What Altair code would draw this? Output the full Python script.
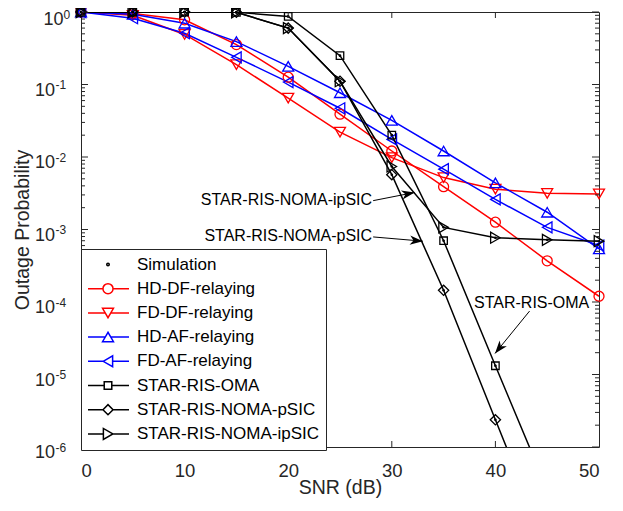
import math
import altair as alt
import pandas as pd

# ---------------- data ----------------
snr = [0, 5, 10, 15, 20, 25, 30, 35, 40, 45, 50]
hd_df = [1.0, 0.95, 0.78, 0.355, 0.126, 0.039, 0.0121, 0.0039, 0.00126, 0.00037, 0.00012]
fd_df = [1.0, 0.90, 0.49, 0.188, 0.065, 0.022, 0.0098, 0.0052, 0.0036, 0.00315, 0.0031]
hd_af = [1.0, 0.93, 0.70, 0.39, 0.178, 0.077, 0.032, 0.0121, 0.0044, 0.00173, 0.00054]
fd_af = [1.0, 0.82, 0.51, 0.237, 0.108, 0.047, 0.0175, 0.0068, 0.0026, 0.00107, 0.00060]
oma = [1.0, 1.0, 1.0, 0.99, 0.87, 0.25, 0.020, 0.00070, 1.32e-5, 2.6e-7]
noma_psic = [1.0, 1.0, 1.0, 0.99, 0.60, 0.111, 0.0057, 1.45e-4, 2.37e-6, 4e-8]
noma_ipsic = [1.0, 1.0, 1.0, 0.99, 0.60, 0.111, 0.0074, 0.00107, 0.00077, 0.00072, 0.00069]

series_names = ["HD-DF-relaying", "FD-DF-relaying", "HD-AF-relaying", "FD-AF-relaying",
                "STAR-RIS-OMA", "STAR-RIS-NOMA-pSIC", "STAR-RIS-NOMA-ipSIC"]
series_values = [hd_df, fd_df, hd_af, fd_af, oma, noma_psic, noma_ipsic]
simulated_series = ["STAR-RIS-OMA", "STAR-RIS-NOMA-pSIC", "STAR-RIS-NOMA-ipSIC"]

legend_names = ["Simulation"] + series_names

x_ticks = [0, 10, 20, 30, 40, 50]
y_ticks = [1, 1e-1, 1e-2, 1e-3, 1e-4, 1e-5, 1e-6]
y_tick_base = "10"
y_tick_exps = ["0", "-1", "-2", "-3", "-4", "-5", "-6"]
y_minor = [k * 10.0 ** (-d) for d in range(1, 7) for k in range(2, 10)]

ann_text = ["STAR-RIS-NOMA-ipSIC", "STAR-RIS-NOMA-pSIC"]
ann_snr = [28.1, 28.1]
ann_val = [2.58e-3, 8.2e-4]
oma_text = ["STAR-RIS-OMA"]
oma_snr = [43.5]
oma_val = [9.6e-5]
arrow_from_snr = [28.2, 28.2, 43.3]
arrow_from_val = [2.5e-3, 7.9e-4, 7.5e-5]
arrow_to_snr = [32.2, 33.0, 39.96]
arrow_to_val = [3.24e-3, 6.9e-4, 1.95e-5]

# ---------------- styles ----------------
FONT = "Liberation Sans"
TXT = "#262626"
W, H = 518, 435
YMIN, YMAX = 1e-6, 1.0

legend_colors = ["black", "#ff0000", "#ff0000", "#0000ff", "#0000ff", "black", "black", "black"]
series_colors = legend_colors[1:]
series_shapes = ["circle", "triangle-down", "triangle-up", "triangle-left", "square", "diamond", "triangle-right"]
series_sizes = [100, 121, 121, 121, 56, 105, 121]

legend_paths = [
    "M0.06,0A0.06,0.06,0,1,1,-0.06,0A0.06,0.06,0,1,1,0.06,0Z",
    "M-1,0H-0.24M0.24,0H1M0.24,0A0.24,0.24,0,1,1,-0.24,0A0.24,0.24,0,1,1,0.24,0Z",
    "M-1,0H-0.13M0.13,0H1M-0.26,-0.22L0.26,-0.22L0,0.23Z",
    "M-1,0H-0.13M0.13,0H1M0,-0.23L-0.26,0.22L0.26,0.22Z",
    "M-1,0H-0.23M0.22,0H1M-0.23,0L0.22,-0.26L0.22,0.26Z",
    "M-1,0H-0.18M0.18,0H1M-0.18,-0.18H0.18V0.18H-0.18Z",
    "M-1,0H-0.24M0.24,0H1M-0.24,0L0,-0.24L0.24,0L0,0.24Z",
    "M-1,0H-0.22M0.23,0H1M0.23,0L-0.22,-0.26L-0.22,0.26Z",
]
arrow_path = "M0,0L-1,-0.36L-0.72,0L-1,0.36Z"

# ---------------- tables ----------------
color_of = dict(zip(series_names, series_colors))
rows = []
for name, vals in zip(series_names, series_values):
    for s, v in zip(snr, vals):
        rows.append({"series": name, "snr": s, "value": v, "col": color_of[name]})
df = pd.DataFrame(rows)
df_pts = df[df["value"] >= YMIN]


def px(s, v):
    return s / 50 * W, -math.log10(v) / 6 * H


angles = []
for a, b, c, d in zip(arrow_from_snr, arrow_from_val, arrow_to_snr, arrow_to_val):
    x0, y0 = px(a, b)
    x1, y1 = px(c, d)
    angles.append(math.degrees(math.atan2(y1 - y0, x1 - x0)) % 360)

arrows = pd.DataFrame({"snr": arrow_from_snr, "value": arrow_from_val,
                       "snr2": arrow_to_snr, "value2": arrow_to_val, "angle": angles})
ann = pd.DataFrame({"snr": ann_snr, "value": ann_val, "text": ann_text})
ann_oma = pd.DataFrame({"snr": oma_snr, "value": oma_val, "text": oma_text})
ylab = pd.DataFrame({"value": y_ticks, "base": [y_tick_base] * len(y_ticks), "exp": y_tick_exps})
ylab_top = ylab[ylab["exp"].str.len() == 1]
ylab_rest = ylab[ylab["exp"].str.len() > 1]

# ---------------- scales / axes ----------------
x_scale = alt.Scale(domain=[0, 50], nice=False, zero=False)
y_scale = alt.Scale(type="log", domain=[YMIN, YMAX], nice=False)
color_scale = alt.Scale(domain=legend_names, range=legend_colors)

x_axis = alt.Axis(values=x_ticks, ticks=False, domain=False, grid=False,
                  labelFontSize=18.5, labelPadding=14, labelColor=TXT,
                  title="SNR (dB)", titleFontSize=19.5, titleFontWeight="normal",
                  titleColor=TXT, titleX=W / 2, titleY=46, titleBaseline="alphabetic")
y_axis = alt.Axis(values=y_ticks, labels=False, ticks=False, domain=False, grid=False,
                  title="Outage Probability", titleFontSize=19.5, titleFontWeight="normal",
                  titleColor=TXT, titleX=-59, titleY=H / 2, titleBaseline="middle")

X = alt.X("snr:Q", scale=x_scale, axis=x_axis)
Y = alt.Y("value:Q", scale=y_scale, axis=y_axis)

layers = []

lines = alt.Chart(df).mark_line(clip=True, strokeWidth=1.5).encode(
    x=X, y=Y, color=alt.Color("col:N", scale=None), detail="series:N"
)
layers.append(lines)

for name, col, shp, sz in zip(series_names, series_colors, series_shapes, series_sizes):
    layers.append(
        alt.Chart(df_pts).transform_filter(alt.datum.series == name)
        .mark_point(shape=shp, size=sz, filled=False, strokeWidth=1.3, color=col, opacity=1)
        .encode(x="snr:Q", y="value:Q")
    )

sim = df_pts[df_pts["series"].isin(simulated_series)]
layers.append(
    alt.Chart(sim).mark_point(shape="circle", filled=True, size=7, color="black", opacity=1)
    .encode(x="snr:Q", y="value:Q")
)

# inner tick marks (box style)
ymaj = pd.DataFrame({"value": y_ticks})
ymin_df = pd.DataFrame({"value": y_minor})
xt = pd.DataFrame({"snr": x_ticks[1:-1]})
tick = dict(color=TXT, strokeWidth=1)
layers += [
    alt.Chart(ymaj).mark_rule(**tick).encode(y="value:Q", x=alt.value(0), x2=alt.value(7)),
    alt.Chart(ymaj).mark_rule(**tick).encode(y="value:Q", x=alt.value(W - 7), x2=alt.value(W)),
    alt.Chart(ymin_df).mark_rule(**tick).encode(y="value:Q", x=alt.value(0), x2=alt.value(4)),
    alt.Chart(ymin_df).mark_rule(**tick).encode(y="value:Q", x=alt.value(W - 4), x2=alt.value(W)),
    alt.Chart(xt).mark_rule(**tick).encode(x="snr:Q", y=alt.value(H - 6), y2=alt.value(H)),
    alt.Chart(xt).mark_rule(**tick).encode(x="snr:Q", y=alt.value(0), y2=alt.value(6)),
]

# y tick labels as 10 with superscript exponent
base_style = dict(font=FONT, fontSize=18, color=TXT, align="right", baseline="alphabetic")
exp_style = dict(font=FONT, fontSize=12, color=TXT, align="left", baseline="alphabetic")
layers += [
    alt.Chart(ylab_top).mark_text(dy=12.5, **base_style).encode(y="value:Q", x=alt.value(-17.5), text="base:N"),
    alt.Chart(ylab_top).mark_text(dy=6.5, **exp_style).encode(y="value:Q", x=alt.value(-17.5), text="exp:N"),
    alt.Chart(ylab_rest).mark_text(dy=11, **base_style).encode(y="value:Q", x=alt.value(-26), text="base:N"),
    alt.Chart(ylab_rest).mark_text(dy=4.5, **exp_style).encode(y="value:Q", x=alt.value(-25.5), text="exp:N"),
]

# annotations
layers += [
    alt.Chart(arrows).mark_rule(color="black", strokeWidth=1).encode(
        x="snr:Q", y="value:Q", x2="snr2:Q", y2="value2:Q"),
    alt.Chart(arrows).mark_point(shape=arrow_path, filled=True, size=676, color="black", opacity=1).encode(
        x="snr2:Q", y="value2:Q", angle=alt.Angle("angle:Q", scale=None)),
    alt.Chart(ann).mark_text(font=FONT, fontSize=16, align="right", baseline="middle", color="black").encode(
        x="snr:Q", y="value:Q", text="text:N"),
    alt.Chart(ann_oma).mark_text(font=FONT, fontSize=16, align="center", baseline="middle", color="black").encode(
        x="snr:Q", y="value:Q", text="text:N"),
]

# legend (built from an empty layer so only the legend is drawn)
leg = alt.Legend(title=None, orient="none", legendX=0, legendY=237, padding=7,
                 strokeColor=TXT, fillColor="white", symbolSize=1764, symbolStrokeWidth=1.5,
                 labelFont=FONT, labelFontSize=17, labelColor="black", labelLimit=300,
                 clipHeight=17, rowPadding=6.2, labelOffset=7, symbolOffset=-2, cornerRadius=0)
leg_df = pd.DataFrame({"series": legend_names})
legend_layer = alt.Chart(leg_df).transform_filter("false").mark_point(
    filled=False, strokeWidth=1.5, opacity=1).encode(
    color=alt.Color("series:N", scale=color_scale, legend=leg),
    shape=alt.Shape("series:N", scale=alt.Scale(domain=legend_names, range=legend_paths), legend=leg),
)
layers.append(legend_layer)

chart = alt.layer(*layers).properties(
    width=W, height=H,
    autosize=alt.AutoSizeParams(type="none"),
    padding={"left": 73, "top": 4, "right": 16, "bottom": 56},
    background="white",
).configure_view(stroke=TXT, strokeWidth=1).configure_axis(
    labelFont=FONT, titleFont=FONT
)

chart.save("out.html", embed_options={"renderer": "svg", "actions": False})
